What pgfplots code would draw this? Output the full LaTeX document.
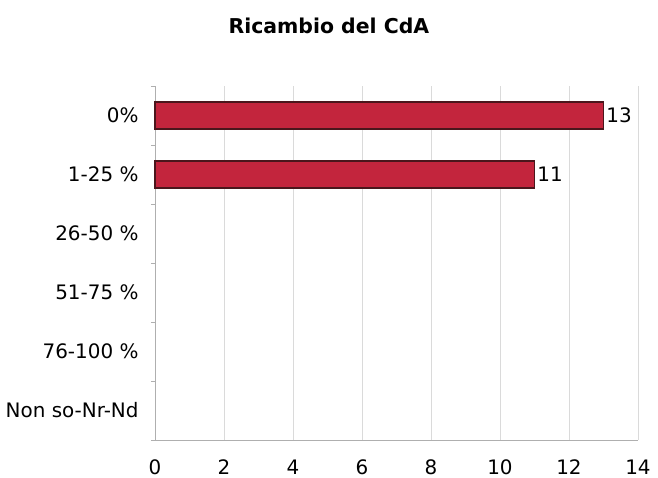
\documentclass[border=0pt]{standalone}
\usepackage{fontspec}
\setmainfont{DejaVu Sans}
\usepackage{pgfplots}
\pgfplotsset{compat=1.18}
\definecolor{barred}{RGB}{195,37,61}
\definecolor{bardark}{RGB}{75,22,28}
\definecolor{axgray}{RGB}{175,175,175}
\definecolor{gridgray}{RGB}{218,218,218}
\begin{document}
\begin{tikzpicture}
\begin{axis}[
    xbar,
    scale only axis,
    width=483bp, height=354bp,
    xmin=0, xmax=14, xtick={0,2,...,14},
    ymin=-0.5, ymax=5.5,
    ytick={0,...,5},
    % categories from bottom to top
    yticklabels={Non so-Nr-Nd, 76-100 \%, 51-75 \%, 26-50 \%, 1-25 \%, 0\%},
    extra y ticks={-0.5,0.5,...,5.5},
    extra y tick labels={},
    extra y tick style={major tick length=4bp, tick align=outside, grid=none},
    major tick length=0pt,
    bar width=27bp,
    axis lines*=left,
    axis line style={axgray, line width=0.8pt},
    xmajorgrids,
    grid style={gridgray, line width=0.8pt},
    tick style={axgray, line width=0.8pt},
    /pgf/number format/assume math mode=true,
    ticklabel style={font=\fontsize{20}{22}\selectfont},
    xticklabel style={yshift=-16bp},
    yticklabel style={xshift=-13bp},
    title={\bfseries Ricambio del CdA},
    title style={at={(0.36,1)}, anchor=center, yshift=54bp, font=\fontsize{20.5}{24}\selectfont},
    nodes near coords,
    nodes near coords style={font=\fontsize{20}{22}\selectfont, black, xshift=-1bp},
    clip=false,
]
% values: 0% = 13, 1-25 % = 11, the other categories are 0 (no bar drawn)
\addplot[fill=barred, draw=bardark, line width=1.1pt] coordinates {(13,5) (11,4)};
\end{axis}
\pgfresetboundingbox
\path ([xshift=-155bp,yshift=-38bp]current axis.south west) rectangle ([xshift=20bp,yshift=86bp]current axis.north east);
\end{tikzpicture}
\end{document}
